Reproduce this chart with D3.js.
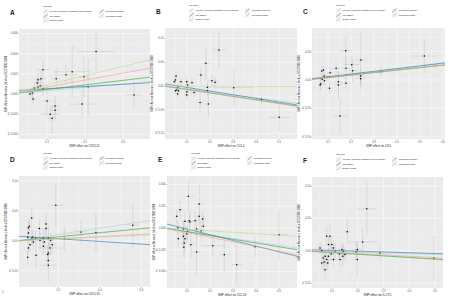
<!DOCTYPE html>
<html>
<head>
  <script src="https://d3js.org/d3.v7.min.js"></script>
  <style>
    html, body { margin: 0; padding: 0; background: #fff; }
    svg { font-family: "Liberation Sans", Arial, sans-serif; display: block; }
    .tickLabel { fill: #4d4d4d; font-size: 2.7px; }
    .axisTitle { fill: #222; font-size: 3px; }
    .yTitle { fill: #222; font-size: 2.6px; }
    .legendText { fill: #222; font-size: 2.4px; }
    .panelLetter { fill: #222; font-size: 6.5px; font-weight: bold; }
  </style>
</head>
<body>
<div id="chart"></div>
<script>
const width = 472, height = 300;

const svg = d3.select("#chart").append("svg")
  .attr("width", width).attr("height", height);

// MR methods, in legend order
const mrTests = ["Inverse variance weighted (fixed effects)", "MR Egger", "Simple mode", "Weighted median", "Weighted mode"];
const mrColors = ["#a6cee3", "#1f78b4", "#b2df8a", "#33a02c", "#fb9a99"];
const outcomeLabel = "SNP effect on Nervous | id:ebi-a-GCST90018908";

// each SNP: [beta exposure, beta outcome, se exposure, se outcome]
const pointsA = [
  [0.229,0.0042,0.050,0.0019],[0.329,-0.0001,0.021,0.0013],[0.089,0.0024,0.016,0.0009],
  [0.166,0.0022,0.049,0.0026],[0.150,0.0019,0.029,0.0010],[0.124,0.0015,0.012,0.0010],
  [0.084,0.0015,0.010,0.0008],[0.076,0.0014,0.008,0.0007],[0.074,0.0011,0.008,0.0006],
  [0.082,0.0008,0.009,0.0007],[0.076,0.0007,0.008,0.0006],[0.089,0.0005,0.010,0.0007],
  [0.066,0.0006,0.007,0.0006],[0.061,0.0001,0.007,0.0005],[0.055,0.0000,0.006,0.0005],
  [0.063,-0.0005,0.007,0.0006],[0.197,0.0017,0.015,0.0021],[0.208,0.0007,0.020,0.0028],
  [0.192,-0.0010,0.037,0.0014],[0.100,-0.0007,0.012,0.0016],[0.121,-0.0012,0.012,0.0010],
  [0.121,-0.0016,0.015,0.0010],[0.108,-0.0020,0.025,0.0008],[0.113,-0.0024,0.012,0.0015]
];
const pointsB = [
  [0.239,0.0758,0.032,0.0386],[0.182,0.0478,0.015,0.035],[0.160,0.0232,0.020,0.015],
  [0.208,0.0112,0.020,0.012],[0.222,0.0078,0.015,0.010],[0.053,0.021,0.005,0.010],
  [0.050,0.0126,0.005,0.008],[0.045,0.009,0.005,0.008],[0.074,0.009,0.008,0.009],
  [0.099,0.009,0.010,0.010],[0.122,0.007,0.010,0.010],[0.103,0.002,0.010,0.010],
  [0.061,-0.0027,0.006,0.008],[0.056,-0.0084,0.006,0.008],[0.050,-0.0099,0.005,0.008],
  [0.064,-0.0099,0.006,0.008],[0.100,-0.012,0.010,0.010],[0.131,-0.014,0.012,0.010],
  [0.099,-0.019,0.010,0.010],[0.060,-0.0168,0.006,0.008],[0.189,-0.0027,0.015,0.012],
  [0.189,-0.0099,0.015,0.012],[0.303,-0.0036,0.086,0.0386],[0.157,-0.035,0.015,0.021],
  [0.193,-0.0379,0.015,0.028],[0.423,-0.028,0.029,0.010],[0.500,-0.066,0.047,0.028]
];
const pointsC = [
  [0.519,0.0423,0.054,0.029],[0.177,0.0517,0.029,0.026],[0.243,0.0353,0.020,0.051],
  [0.203,0.027,0.036,0.015],[0.207,0.0164,0.020,0.020],[0.178,0.0206,0.015,0.020],
  [0.135,0.0206,0.020,0.010],[0.109,0.0129,0.012,0.010],[0.080,0.0176,0.008,0.008],
  [0.073,0.0159,0.008,0.010],[0.083,0.0071,0.008,0.008],[0.099,0.0048,0.010,0.008],
  [0.074,0.0012,0.008,0.008],[0.084,-0.0012,0.008,0.008],[0.068,-0.0071,0.007,0.010],
  [0.065,-0.0088,0.007,0.010],[0.106,-0.0146,0.012,0.010],[0.145,-0.003,0.015,0.020],
  [0.145,-0.0088,0.015,0.025],[0.178,-0.0058,0.020,0.010],[0.242,0.0071,0.025,0.015],
  [0.242,0.0023,0.020,0.012],[0.330,0.0146,0.015,0.010],[0.152,-0.0635,0.029,0.032]
];
const pointsD = [
  [0.188,0.0595,0.044,0.0375],[0.072,0.0383,0.010,0.018],[0.061,0.0245,0.008,0.012],
  [0.056,0.0217,0.008,0.012],[0.109,0.0205,0.015,0.015],[0.141,0.0283,0.015,0.0167],
  [0.141,0.0205,0.015,0.015],[0.056,0.0133,0.008,0.010],[0.053,0.0062,0.008,0.010],
  [0.072,0.005,0.010,0.012],[0.077,0.0062,0.010,0.012],[0.091,0.005,0.012,0.012],
  [0.112,0.0005,0.012,0.015],[0.128,0.005,0.015,0.015],[0.133,-0.0017,0.015,0.012],
  [0.152,0.005,0.015,0.020],[0.163,0.0012,0.015,0.012],[0.171,-0.0062,0.015,0.015],
  [0.080,-0.0017,0.010,0.012],[0.064,-0.0062,0.008,0.012],[0.056,-0.0117,0.008,0.012],
  [0.160,-0.0117,0.056,0.012],[0.128,-0.0088,0.012,0.015],[0.152,-0.020,0.015,0.018],
  [0.149,-0.0228,0.015,0.015],[0.093,-0.0238,0.012,0.020],[0.152,-0.0328,0.015,0.015],
  [0.152,-0.0405,0.040,0.0275],[0.053,-0.0272,0.008,0.012],[0.309,0.015,0.030,0.020],
  [0.381,0.0138,0.020,0.032],[0.558,0.0262,0.030,0.036],[0.229,0.0038,0.030,0.020]
];
const pointsE = [
  [0.106,0.0364,0.025,0.0172],[0.153,0.0276,0.015,0.022],[0.070,0.021,0.010,0.010],
  [0.055,0.0134,0.008,0.008],[0.091,0.0077,0.012,0.010],[0.110,0.0084,0.012,0.010],
  [0.113,0.0069,0.015,0.012],[0.153,0.0134,0.015,0.012],[0.168,0.0103,0.015,0.010],
  [0.135,0.0084,0.012,0.010],[0.171,0.002,0.015,0.012],[0.060,0.0,0.008,0.008],
  [0.084,-0.0011,0.010,0.010],[0.142,-0.0011,0.015,0.012],[0.161,-0.0031,0.015,0.012],
  [0.103,-0.0038,0.012,0.012],[0.099,-0.0069,0.012,0.010],[0.084,-0.0095,0.010,0.012],
  [0.062,-0.0123,0.008,0.010],[0.091,-0.0123,0.012,0.015],[0.088,-0.0172,0.010,0.012],
  [0.117,-0.0192,0.015,0.015],[0.086,-0.0222,0.010,0.012],[0.142,-0.0276,0.015,0.027],
  [0.212,-0.0203,0.051,0.012],[0.262,-0.0307,0.020,0.020],[0.316,-0.0422,0.022,0.023],
  [0.396,-0.0215,0.015,0.0115],[0.500,-0.0077,0.036,0.0287]
];
const pointsF = [
  [0.235,0.0649,0.039,0.041],[0.159,0.0294,0.015,0.018],[0.219,0.0139,0.055,0.020],
  [0.286,-0.0031,0.015,0.010],[0.496,-0.0108,0.020,0.0335],[0.092,0.0227,0.010,0.018],
  [0.079,0.0227,0.010,0.015],[0.086,0.0097,0.010,0.012],[0.099,0.0097,0.010,0.012],
  [0.053,0.0046,0.008,0.010],[0.060,0.0005,0.008,0.010],[0.105,0.0046,0.012,0.012],
  [0.112,-0.0005,0.012,0.012],[0.138,0.002,0.012,0.012],[0.144,-0.0005,0.012,0.012],
  [0.128,-0.0046,0.012,0.010],[0.150,-0.0057,0.012,0.012],[0.096,-0.0046,0.010,0.012],
  [0.086,-0.0082,0.010,0.012],[0.073,-0.0082,0.008,0.010],[0.066,-0.0108,0.008,0.012],
  [0.079,-0.0134,0.010,0.012],[0.069,-0.017,0.008,0.012],[0.060,-0.0185,0.008,0.010],
  [0.083,-0.0185,0.010,0.012],[0.131,-0.0134,0.012,0.012],[0.142,-0.0082,0.012,0.015],
  [0.073,-0.0289,0.010,0.015],[0.105,-0.0134,0.012,0.012],[0.193,-0.0015,0.015,0.015],
  [0.198,0.002,0.015,0.012],[0.198,-0.0134,0.015,0.028]
];

// fitted lines per method, [intercept, slope], same order as mrTests
const linesA = [[0,0.0033],[0.0003,0.0022],[0,0.0091],[0,0.0045],[0,0.0069]];
const linesB = [[0,-0.063],[0.0046,-0.077],[0,-0.002],[0,-0.073],[0,-0.074]];
const linesC = [[0,0.049],[0.001,0.048],[0,0.0435],[0,0.044],[0,0.0435]];
const linesD = [[0,0.053],[0.008,-0.0222],[0,0.016],[0,0.034],[0,0.018]];
const linesE = [[0,-0.0399],[0.0054,-0.0657],[0,-0.0165],[0,-0.0432],[0,-0.0532]];
const linesF = [[0,-0.0107],[0.002,-0.012],[0,-0.026],[0,-0.025],[0,-0.0204]];

// axis ticks
const xTicksA = [0.1,0.2,0.3],           yTicksA = [-0.004,-0.002,0,0.002,0.004,0.006];
const xTicksB = [0.1,0.2,0.3,0.4,0.5],   yTicksB = [-0.1,-0.05,0,0.05,0.1];
const xTicksC = [0.1,0.2,0.3,0.4,0.5,0.6], yTicksC = [-0.1,-0.05,0,0.05];
const xTicksD = [0.2,0.4,0.6],           yTicksD = [-0.05,0,0.05,0.1];
const xTicksE = [0.1,0.2,0.3,0.4,0.5],   yTicksE = [-0.05,-0.025,0,0.025,0.05];
const xTicksF = [0.1,0.2,0.3,0.4,0.5],   yTicksF = [-0.05,0,0.05,0.1];

const exposures = ["CXCL11", "CCL4", "CD5", "CXCL10", "CCL19", "IL-17C"];

// panel layout (pixels) and axis ranges
const panels = [
  {letter:"A", pts:pointsA, lines:linesA, xt:xTicksA, yt:yTicksA, xd:[0.026,0.371], yd:[-0.00446,0.00644], yf:".3f", box:[19,29,131,110]},
  {letter:"B", pts:pointsB, lines:linesB, xt:xTicksB, yt:yTicksB, xd:[0.005,0.577], yd:[-0.1116,0.122],   yf:".2f", box:[165,28,132,111]},
  {letter:"C", pts:pointsC, lines:linesC, xt:xTicksC, yt:yTicksC, xd:[0.030,0.609], yd:[-0.104,0.0917],   yf:".2f", box:[312,28,133,111]},
  {letter:"D", pts:pointsD, lines:linesD, xt:xTicksD, yt:yTicksD, xd:[0.011,0.641], yd:[-0.0767,0.108],   yf:".2f", box:[19,176,131,111]},
  {letter:"E", pts:pointsE, lines:linesE, xt:xTicksE, yt:yTicksE, xd:[0.013,0.578], yd:[-0.069,0.0598],   yf:".3f", box:[167,176,130,112]},
  {letter:"F", pts:pointsF, lines:linesF, xt:xTicksF, yt:yTicksF, xd:[0.022,0.531], yd:[-0.0572,0.114],   yf:".2f", box:[312,177,131,111]}
];

function minorTicks(ticks, dom) {
  const step = ticks[1] - ticks[0];
  const out = [];
  for (let i = -1; i < ticks.length; i++) {
    const v = ticks[0] + step * (i + 0.5);
    if (v >= dom[0] && v <= dom[1]) out.push(v);
  }
  return out;
}

panels.forEach(function(p, i) {
  const [bx, by, bw, bh] = p.box;
  const x = d3.scaleLinear().domain(p.xd).range([bx, bx + bw]);
  const y = d3.scaleLinear().domain(p.yd).range([by + bh, by]);
  const g = svg.append("g");

  const clipId = "clip" + i;
  svg.append("clipPath").attr("id", clipId)
    .append("rect").attr("x", bx).attr("y", by).attr("width", bw).attr("height", bh);

  // background + grid
  g.append("rect").attr("x", bx).attr("y", by).attr("width", bw).attr("height", bh).attr("fill", "#ebebeb");
  g.selectAll(".mx").data(minorTicks(p.xt, p.xd)).join("line")
    .attr("x1", d => x(d)).attr("x2", d => x(d)).attr("y1", by).attr("y2", by + bh)
    .attr("stroke", "#fff").attr("stroke-width", 0.25);
  g.selectAll(".my").data(minorTicks(p.yt, p.yd)).join("line")
    .attr("y1", d => y(d)).attr("y2", d => y(d)).attr("x1", bx).attr("x2", bx + bw)
    .attr("stroke", "#fff").attr("stroke-width", 0.25);
  g.selectAll(".gx").data(p.xt).join("line")
    .attr("x1", d => x(d)).attr("x2", d => x(d)).attr("y1", by).attr("y2", by + bh)
    .attr("stroke", "#fff").attr("stroke-width", 0.5);
  g.selectAll(".gy").data(p.yt).join("line")
    .attr("y1", d => y(d)).attr("y2", d => y(d)).attr("x1", bx).attr("x2", bx + bw)
    .attr("stroke", "#fff").attr("stroke-width", 0.5);

  // error bars and points
  const marks = g.append("g").attr("clip-path", `url(#${clipId})`);
  marks.selectAll(".ev").data(p.pts).join("line")
    .attr("x1", d => x(d[0])).attr("x2", d => x(d[0]))
    .attr("y1", d => y(d[1] - d[3])).attr("y2", d => y(d[1] + d[3]))
    .attr("stroke", "#bebebe").attr("stroke-width", 0.4);
  marks.selectAll(".eh").data(p.pts).join("line")
    .attr("y1", d => y(d[1])).attr("y2", d => y(d[1]))
    .attr("x1", d => x(d[0] - d[2])).attr("x2", d => x(d[0] + d[2]))
    .attr("stroke", "#bebebe").attr("stroke-width", 0.4);
  marks.selectAll(".pt").data(p.pts).join("circle")
    .attr("cx", d => x(d[0])).attr("cy", d => y(d[1])).attr("r", 0.75).attr("fill", "#000");

  // method lines
  marks.selectAll(".fit").data(p.lines).join("line")
    .attr("x1", x(p.xd[0])).attr("x2", x(p.xd[1]))
    .attr("y1", d => y(d[0] + d[1] * p.xd[0])).attr("y2", d => y(d[0] + d[1] * p.xd[1]))
    .attr("stroke", (d, k) => mrColors[k]).attr("stroke-width", 0.6);

  // axes
  const fx = d3.format(".1f"), fy = d3.format(p.yf);
  g.selectAll(".xtk").data(p.xt).join("line")
    .attr("x1", d => x(d)).attr("x2", d => x(d)).attr("y1", by + bh).attr("y2", by + bh + 1)
    .attr("stroke", "#333").attr("stroke-width", 0.3);
  g.selectAll(".xtl").data(p.xt).join("text").attr("class", "tickLabel")
    .attr("x", d => x(d)).attr("y", by + bh + 3.8).attr("text-anchor", "middle").text(d => fx(d));
  g.selectAll(".ytk").data(p.yt).join("line")
    .attr("y1", d => y(d)).attr("y2", d => y(d)).attr("x1", bx - 1).attr("x2", bx)
    .attr("stroke", "#333").attr("stroke-width", 0.3);
  g.selectAll(".ytl").data(p.yt).join("text").attr("class", "tickLabel")
    .attr("x", bx - 1.5).attr("y", d => y(d) + 0.9).attr("text-anchor", "end")
    .text(d => fy(d));

  g.append("text").attr("class", "axisTitle")
    .attr("x", bx + bw / 2).attr("y", by + bh + 7.5).attr("text-anchor", "middle")
    .text("SNP effect on " + exposures[i]);
  g.append("text").attr("class", "yTitle")
    .attr("transform", `translate(${bx - 12.5},${by + bh / 2}) rotate(-90)`)
    .attr("text-anchor", "middle").text(outcomeLabel);

  // panel letter
  g.append("text").attr("class", "panelLetter")
    .attr("x", bx - 9).attr("y", by - 14).text(p.letter);

  // legend
  const lx = bx + 24, ly = by - 22.5;
  g.append("text").attr("class", "legendText").attr("x", lx).attr("y", ly).text("MR Test");
  mrTests.forEach(function(t, k) {
    const col = k < 3 ? 0 : 1, row = k < 3 ? k : k - 3;
    const kx = lx + col * 56, ky = ly + 2.8 + row * 4.6;
    g.append("rect").attr("x", kx).attr("y", ky).attr("width", 5).attr("height", 4.2).attr("fill", "#f2f2f2");
    g.append("line").attr("x1", kx + 0.4).attr("y1", ky + 4).attr("x2", kx + 4.6).attr("y2", ky + 0.2)
      .attr("stroke", mrColors[k]).attr("stroke-width", 0.6);
    g.append("text").attr("class", "legendText").attr("x", kx + 6.5).attr("y", ky + 2.9).text(t);
  });
});

svg.append("text").attr("x", 2).attr("y", 293).attr("fill", "#444").attr("font-size", "3px").text("1");
</script>
</body>
</html>
